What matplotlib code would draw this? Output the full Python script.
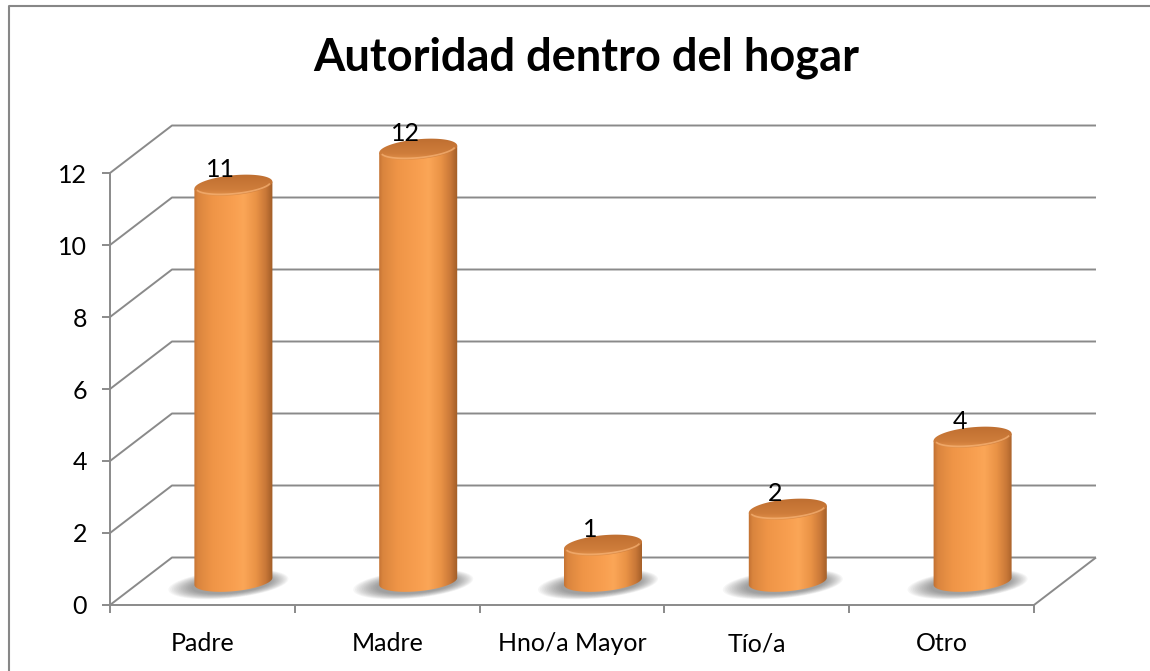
import numpy as np
import matplotlib
matplotlib.use("Agg")
import matplotlib.pyplot as plt
import matplotlib.transforms as mtransforms
from matplotlib.patches import Polygon
from matplotlib.lines import Line2D
from matplotlib.colors import LinearSegmentedColormap

categories = ["Padre", "Madre", "Hno/a Mayor", "Tío/a", "Otro"]
values = [11, 12, 1, 2, 4]
y_ticks = [0, 2, 4, 6, 8, 10, 12]
title = "Autoridad dentro del hogar"

W, H, DPI = 1150, 671, 100
GRID = "#8a8a8a"

plt.rcParams["font.family"] = ["Lato", "DejaVu Sans"]
fig = plt.figure(figsize=(W / DPI, H / DPI), dpi=DPI)
fig.patch.set_facecolor("white")

# front plane of the pseudo 3d box (pixels)
left, right, bottom, top = 110, 1034, 605, 173
ax = fig.add_axes([left / W, 1 - bottom / H, (right - left) / W, (bottom - top) / H])
ax.patch.set_alpha(0)

xmin, xmax = -0.5, len(categories) - 0.5
ymin, ymax = 0, 12
ax.set_xlim(xmin, xmax)
ax.set_ylim(ymin, ymax)

depth = (62, 47.5)  # offset of the back wall in px


def shifted(f):
    return ax.transData + mtransforms.ScaledTranslation(
        depth[0] * f / DPI, depth[1] * f / DPI, fig.dpi_scale_trans)


back = shifted(1.0)
mid = shifted(0.5)
ident = mtransforms.IdentityTransform()


def add_line(pts, **kw):
    pts = np.asarray(pts)
    ax.add_line(Line2D(pts[:, 0], pts[:, 1], transform=ident, clip_on=False,
                       color=GRID, lw=1.4, solid_capstyle="butt", **kw))


# side wall diagonals + back wall gridlines
for v in y_ticks:
    p0 = ax.transData.transform((xmin, v))
    p1 = back.transform((xmin, v))
    p2 = back.transform((xmax, v))
    add_line([p0, p1, p2], zorder=1)
# floor right edge
add_line([ax.transData.transform((xmax, 0)), back.transform((xmax, 0))], zorder=1)

# axes look
for s in ["top", "right"]:
    ax.spines[s].set_visible(False)
for s in ["left", "bottom"]:
    ax.spines[s].set_color(GRID)
    ax.spines[s].set_linewidth(1.4)
ax.set_yticks(y_ticks)
ax.tick_params(axis="y", direction="out", length=5.5, width=1.4, color=GRID,
               pad=11, labelsize=18)
ax.set_xticks(range(len(categories)))
ax.set_xticklabels(categories)
ax.tick_params(axis="x", which="major", length=0, pad=19.5, labelsize=18)
ax.set_xticks(np.arange(xmin, xmax + 0.01, 1), minor=True)
ax.tick_params(axis="x", which="minor", direction="out", length=5.5, width=1.4, color=GRID)

# pixel scale of the data axes
o = ax.transData.transform((0, 0))
sx = ax.transData.transform((1, 0))[0] - o[0]
sy = ax.transData.transform((0, 1))[1] - o[1]

rx, ry, tilt = 39, 10, 0.09


def ell(cx, cy, t, a=rx, b=ry, ox=0, oy=0):
    dx = a * np.cos(t)
    dy = b * np.sin(t) + tilt * dx
    return np.column_stack([cx + (dx + ox) / sx, cy + (dy + oy) / sy])


body_cmap = LinearSegmentedColormap.from_list("body", [
    (0.0, "#b96a2e"), (0.07, "#da853e"), (0.25, "#ef9547"), (0.5, "#f89f50"),
    (0.63, "#fba657"), (0.78, "#ea9346"), (0.9, "#c97838"), (1.0, "#9a5824")])
top_cmap = LinearSegmentedColormap.from_list("top", [
    (0.0, "#f5aa66"), (0.12, "#e4944d"), (0.35, "#cf7d3b"), (0.7, "#c47334"), (1.0, "#b8692e")])

grad = np.linspace(0, 1, 256)
t_all = np.linspace(0, 2 * np.pi, 120)
t_front = np.linspace(np.pi, 2 * np.pi, 60)


def gradient_fill(outline, z, data, extent, cmap, **kw):
    patch = Polygon(outline, closed=True, transform=mid, facecolor="none",
                    edgecolor="none", zorder=z, clip_on=False)
    ax.add_patch(patch)
    im = ax.imshow(data, cmap=cmap, aspect="auto", transform=mid, extent=extent,
                   zorder=z, interpolation="bilinear", **kw)
    im.set_clip_box(fig.bbox)
    im.set_clip_path(patch)
    return im


for i, v in enumerate(values):
    # soft shadow on the floor
    for k in range(14):
        f = k / 13
        pts = ell(i, 0, t_all, a=60 - 20 * f, b=14 - 5 * f, ox=-5 + 3 * f, oy=-3)
        ax.add_patch(Polygon(pts, closed=True, transform=mid, facecolor="#3c3c3c",
                             edgecolor="none", alpha=0.042, zorder=2, clip_on=False))

    half_w = (rx + 2) / sx
    # body
    outline = np.vstack([ell(i, v, np.array([np.pi])), ell(i, 0, t_front),
                         ell(i, v, np.array([0.0]))])
    gradient_fill(outline, 3, grad[None, :],
                  (i - half_w, i + half_w, -(ry + 8) / sy, v + (ry + 8) / sy), body_cmap)

    # top cap
    gradient_fill(ell(i, v, t_all), 4, grad[:, None],
                  (i - half_w, i + half_w, v - (ry + 5) / sy, v + (ry + 5) / sy), top_cmap,
                  origin="lower")
    rim = ell(i, v, np.linspace(np.pi * 1.08, np.pi * 1.92, 40), a=rx - 2, b=ry - 1.5)
    ax.plot(rim[:, 0], rim[:, 1], transform=mid, color="#f8b477", lw=1.2, alpha=0.7,
            zorder=5, clip_on=False)

    # value label
    ax.annotate(str(v), xy=(i, v), xycoords=mid, xytext=(-9, 11.5),
                textcoords="offset points", ha="center", va="center", fontsize=18,
                zorder=6, annotation_clip=False)

ax.set_xlim(xmin, xmax)
ax.set_ylim(ymin, ymax)

fig.text(586 / W, 1 - 58 / H, title, ha="center", va="center", fontsize=32.5, fontweight="bold")

# chart area border
fig.add_artist(Line2D([9 / W, 9 / W, 1.0], [0, 1 - 6 / H, 1 - 6 / H],
                      transform=fig.transFigure, color="#878787", lw=1.5))

fig.savefig("out.png", dpi=DPI)
